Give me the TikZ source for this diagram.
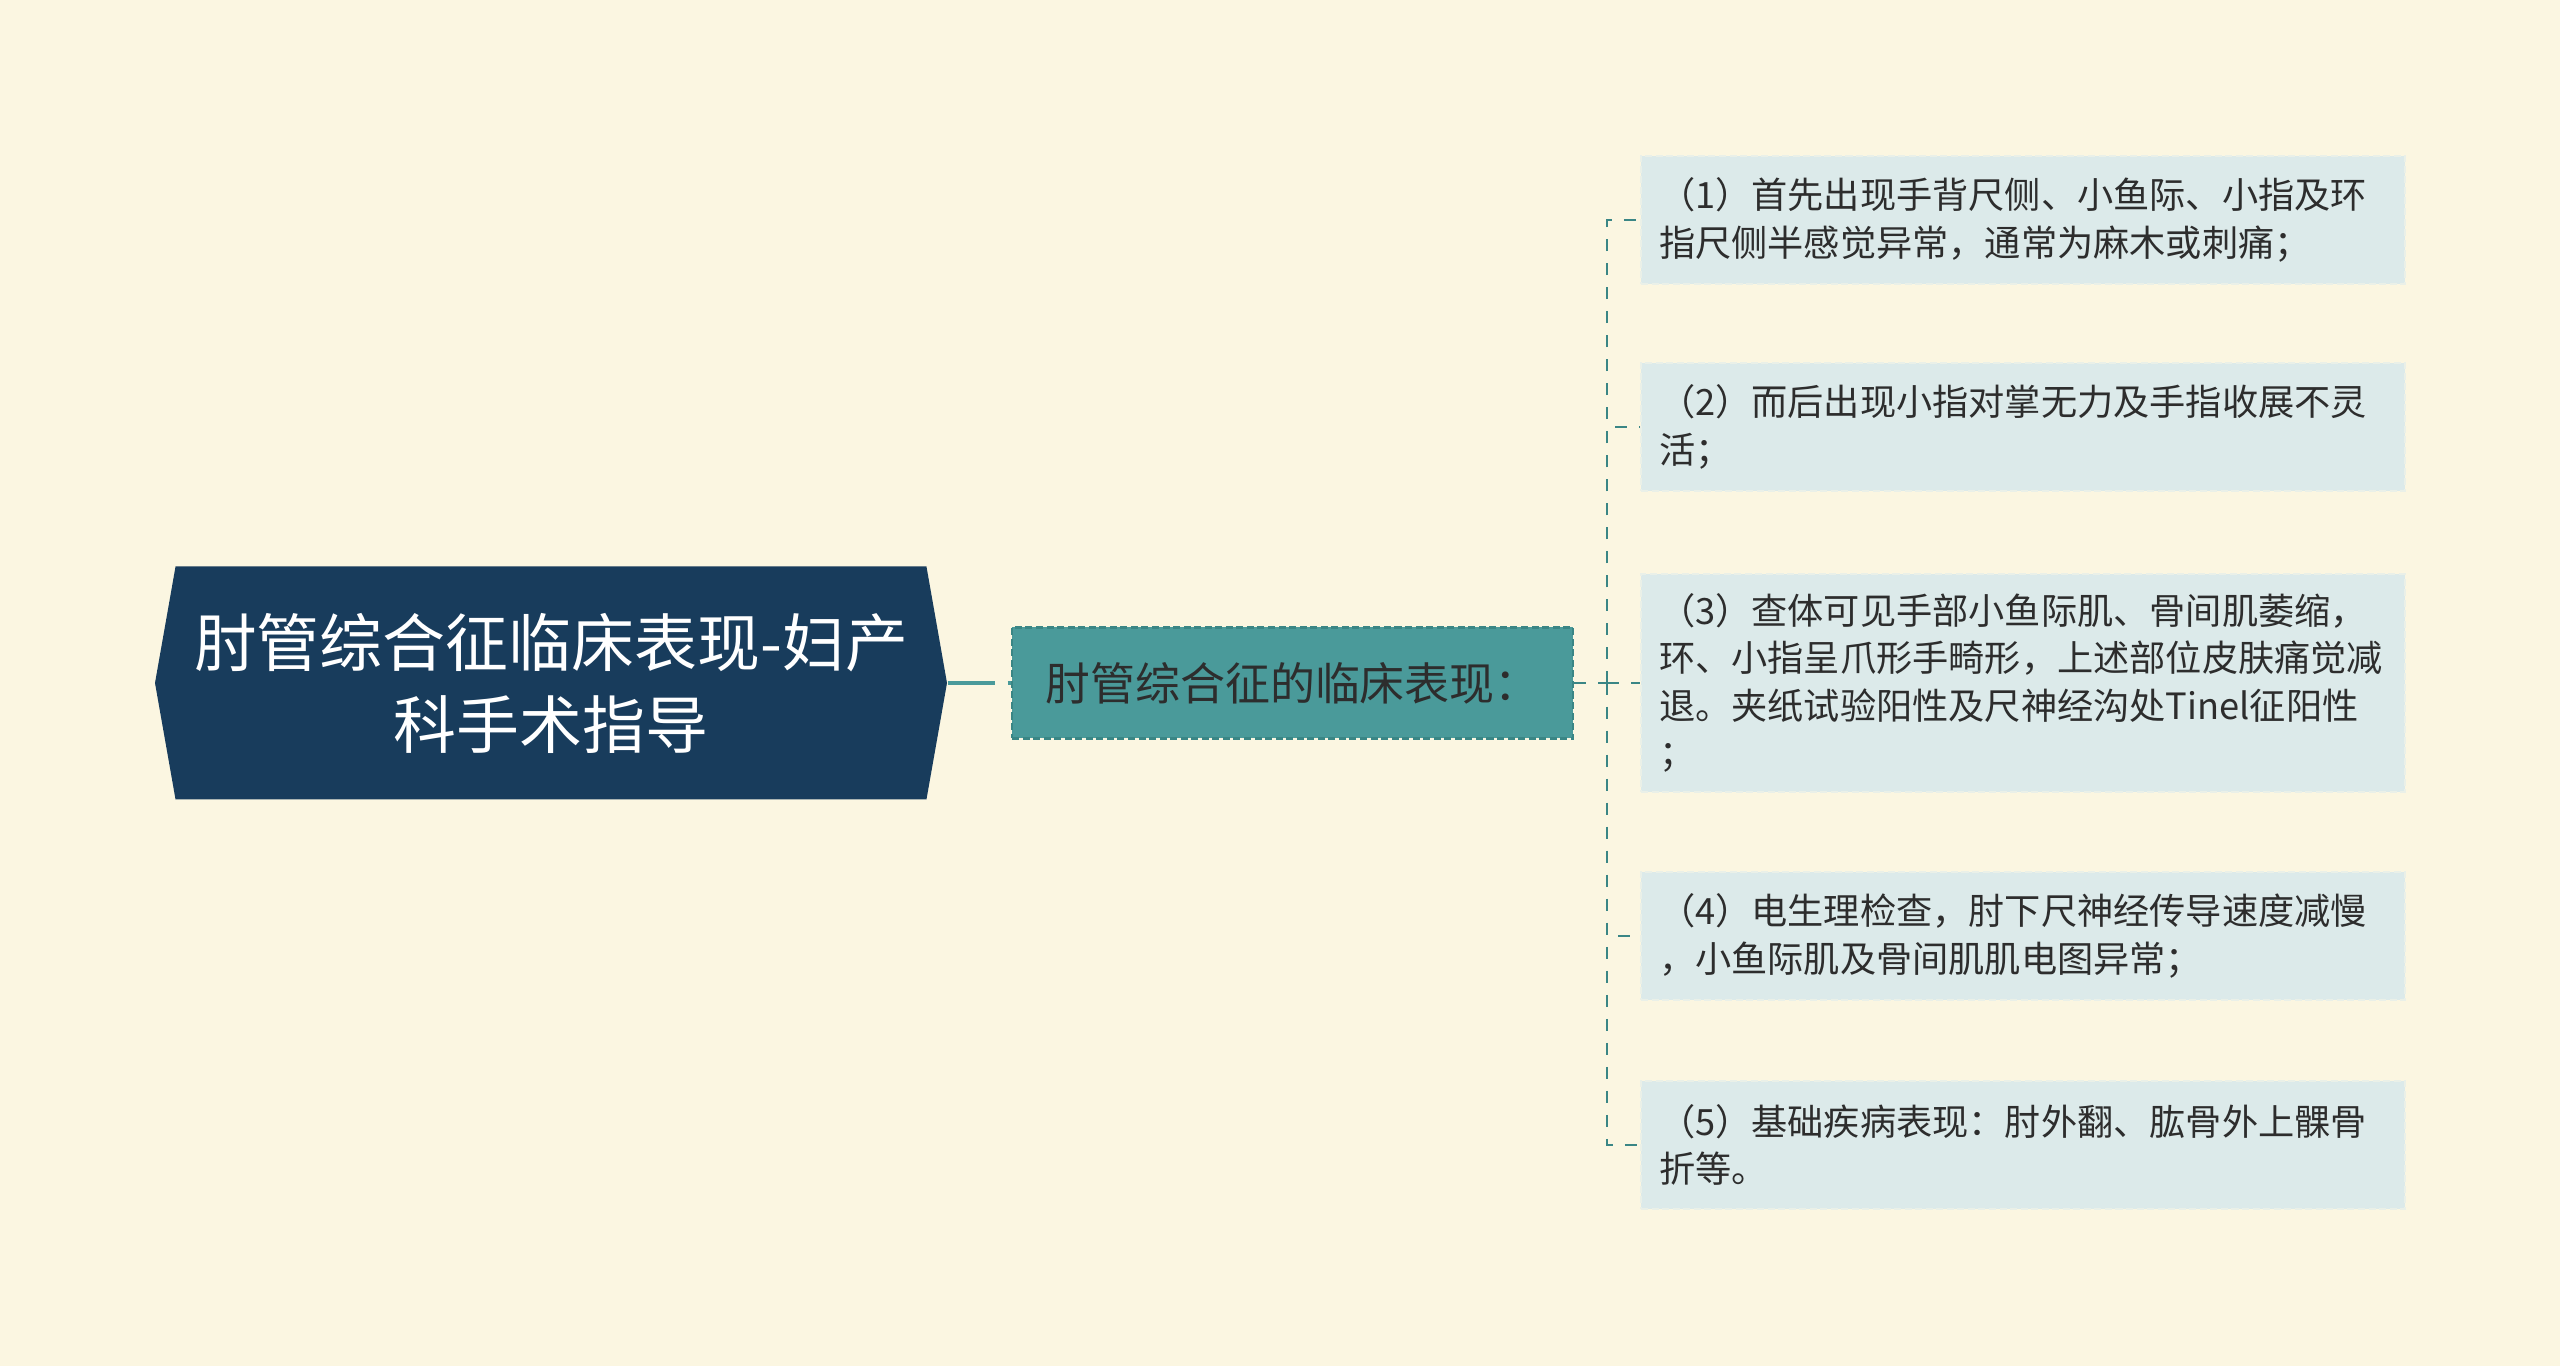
\documentclass[tikz,border=0pt]{standalone}
\usepackage{fontspec}
\setmainfont{Noto Sans CJK SC}
\usetikzlibrary{shapes.symbols,positioning}

\definecolor{paper}{RGB}{251,246,225}
\definecolor{navy}{RGB}{24,60,92}
\definecolor{teal}{RGB}{74,154,154}
\definecolor{tealdark}{RGB}{58,134,133}
\definecolor{leaffill}{RGB}{220,234,234}
\definecolor{leafedge}{RGB}{234,240,232}
\definecolor{ink}{RGB}{45,45,45}

\tikzset{
	rootbox/.style={signal, signal to=west and east, signal pointer angle=160, fill=navy, text=white,
		minimum width=7.92cm, minimum height=2.33cm, inner sep=0pt, align=center,
		font=\fontsize{17.9pt}{23.3pt}\selectfont},
	midbox/.style={rectangle, fill=teal, draw=tealdark, dashed, dash pattern=on 2pt off 1pt, line width=0.6pt,
		text=ink, minimum width=5.61cm, minimum height=1.11cm, inner sep=0pt,
		font=\fontsize{12.8pt}{15pt}\selectfont},
	leafbox/.style={rectangle, fill=leaffill, draw=leafedge, dash pattern=on 2pt off 1pt, line width=0.6pt,
		text=ink, text width=7.28cm, minimum height=1.28cm, inner xsep=0.18cm, inner ysep=0.19cm,
		align=left, font=\fontsize{10.3pt}{13.5pt}\selectfont},
	rootline/.style={draw=teal, line width=1.4pt, dash pattern=on 0.47cm off 0.13cm},
	busline/.style={draw=tealdark, line width=0.6pt, dash pattern=on 0.12cm off 0.12cm}
}

\begin{document}
\begin{tikzpicture}
		\fill [paper] (0,0) rectangle (25.6,-13.66);
		\useasboundingbox (0,0) rectangle (25.6,-13.66);

		\node [rootbox] (root) at (5.51,-6.83) {肘管综合征临床表现-妇产\\科手术指导};
		\node [midbox] (mid) at (12.925,-6.83) {肘管综合征的临床表现：};
		\coordinate (bus) at (16.07,-6.83);

		\node [leafbox] (leaf1) at (20.23,-2.20) {（1）首先出现手背尺侧、小鱼际、小指及环\\指尺侧半感觉异常，通常为麻木或刺痛；};
		\node [leafbox] (leaf2) at (20.23,-4.27) {（2）而后出现小指对掌无力及手指收展不灵\\活；};
		\node [leafbox] (leaf3) at (20.23,-6.83) {（3）查体可见手部小鱼际肌、骨间肌萎缩，\\环、小指呈爪形手畸形，上述部位皮肤痛觉减\\退。夹纸试验阳性及尺神经沟处Tinel征阳性\\；};
		\node [leafbox] (leaf4) at (20.23,-9.36) {（4）电生理检查，肘下尺神经传导速度减慢\\，小鱼际肌及骨间肌肌电图异常；};
		\node [leafbox] (leaf5) at (20.23,-11.45) {（5）基础疾病表现：肘外翻、肱骨外上髁骨\\折等。};

		\draw [rootline] (root.east) -- (mid.west);
		\draw [busline] (mid.east) -- (bus);
		\draw [busline] (bus) |- (leaf1.west);
		\draw [busline] (bus) |- (leaf2.west);
		\draw [busline] (bus) -- (leaf3.west);
		\draw [busline] (bus) |- (leaf4.west);
		\draw [busline] (bus) |- (leaf5.west);
\end{tikzpicture}
\end{document}
